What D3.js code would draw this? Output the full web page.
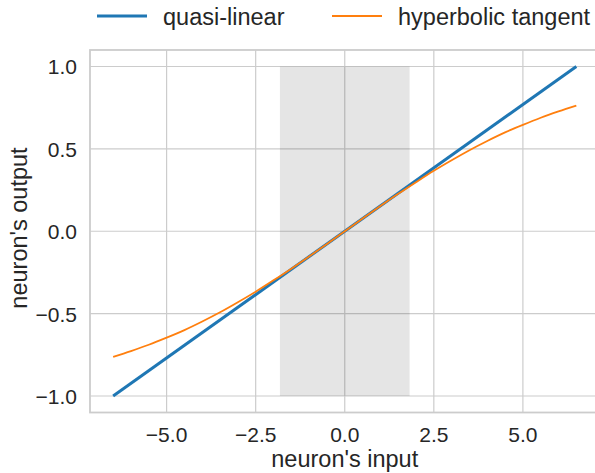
<!DOCTYPE html>
<html>
<head>
<meta charset="utf-8">
<script src="https://cdn.jsdelivr.net/npm/d3@7"></script>
<style>
  body { margin: 0; background: #fff; }
  svg text { font-family: "Liberation Sans", Arial, sans-serif; fill: #262626; }
</style>
</head>
<body>
<div id="chart"></div>
<script>
// Data
var linearX = [-6.5, 6.5];
var linearY = [-1.0, 1.0];

var tanhX = [-6.5, -6.0, -5.5, -5.0, -4.5, -4.0, -3.5, -3.0, -2.5, -2.0, -1.5, -1.0, -0.5, 0.0,
             0.5, 1.0, 1.5, 2.0, 2.5, 3.0, 3.5, 4.0, 4.5, 5.0, 5.5, 6.0, 6.5];
var tanhY = [-0.762, -0.727, -0.689, -0.646, -0.600, -0.548, -0.492, -0.431, -0.367, -0.298, -0.227, -0.153, -0.077, 0.0,
             0.077, 0.153, 0.227, 0.298, 0.367, 0.431, 0.492, 0.548, 0.600, 0.646, 0.689, 0.727, 0.762];

var shadeRange = [-1.82, 1.82];
var shadeY = [-1.0, 1.0];

var xTicks = [-5.0, -2.5, 0.0, 2.5, 5.0];
var yTicks = [-1.0, -0.5, 0.0, 0.5, 1.0];

var seriesNames = ['quasi-linear', 'hyperbolic tangent'];
var seriesColors = ['#1f77b4', '#ff7f0e'];

var width = 595, height = 473;
// plot box (right edge falls just outside the picture, as in the original)
var mLeft = 90, mRight = 599.5, mTop = 50, mBottom = 412.5;

var svg = d3.select('#chart').append('svg').attr('width', width).attr('height', height);

var x = d3.scaleLinear().domain([-7.15, 7.15]).range([mLeft, mRight]);
var y = d3.scaleLinear().domain([-1.1, 1.1]).range([mBottom, mTop]);
var fmt = d3.format('.1f');

// Grid lines
var grid = svg.append('g');
grid.selectAll('line.vx').data(xTicks).enter().append('line')
  .attr('x1', function(d) { return x(d); }).attr('x2', function(d) { return x(d); })
  .attr('y1', mTop).attr('y2', mBottom)
  .attr('stroke', '#cccccc').attr('stroke-width', 1.2);
grid.selectAll('line.hy').data(yTicks).enter().append('line')
  .attr('y1', function(d) { return y(d); }).attr('y2', function(d) { return y(d); })
  .attr('x1', mLeft).attr('x2', mRight)
  .attr('stroke', '#cccccc').attr('stroke-width', 1.2);

// Shaded region (semi-transparent, so grid shows through darker)
svg.append('rect')
  .attr('x', x(shadeRange[0])).attr('width', x(shadeRange[1]) - x(shadeRange[0]))
  .attr('y', y(shadeY[1])).attr('height', y(shadeY[0]) - y(shadeY[1]))
  .attr('fill', '#000').attr('fill-opacity', 0.1);

// Spines
svg.append('rect')
  .attr('x', mLeft).attr('y', mTop).attr('width', mRight - mLeft).attr('height', mBottom - mTop)
  .attr('fill', 'none').attr('stroke', '#cccccc').attr('stroke-width', 1.8);

// Lines
var line = d3.line()
  .x(function(d) { return x(d[0]); })
  .y(function(d) { return y(d[1]); })
  .curve(d3.curveMonotoneX);

svg.append('path')
  .datum(linearX.map(function(v, i) { return [v, linearY[i]]; }))
  .attr('d', line).attr('fill', 'none')
  .attr('stroke', seriesColors[0]).attr('stroke-width', 3);

svg.append('path')
  .datum(tanhX.map(function(v, i) { return [v, tanhY[i]]; }))
  .attr('d', line).attr('fill', 'none')
  .attr('stroke', seriesColors[1]).attr('stroke-width', 1.8);

// Tick labels
svg.selectAll('text.xt').data(xTicks).enter().append('text')
  .attr('x', function(d) { return x(d); }).attr('y', 441.5)
  .attr('text-anchor', 'middle').attr('font-size', 21)
  .text(function(d) { return fmt(d); });
svg.selectAll('text.yt').data(yTicks).enter().append('text')
  .attr('x', 77).attr('y', function(d) { return y(d) + 8; })
  .attr('text-anchor', 'end').attr('font-size', 21)
  .text(function(d) { return fmt(d); });

// Axis labels
svg.append('text').attr('x', x(0)).attr('y', 467)
  .attr('text-anchor', 'middle').attr('font-size', 23.5)
  .text("neuron's input");
svg.append('text').attr('transform', 'translate(26.5,228) rotate(-90)')
  .attr('text-anchor', 'middle').attr('font-size', 23.5)
  .text("neuron's output");

// Legend
var legendX = [97, 332];
var legend = svg.append('g');
seriesNames.forEach(function(name, i) {
  legend.append('line')
    .attr('x1', legendX[i]).attr('x2', legendX[i] + 50)
    .attr('y1', 16).attr('y2', 16)
    .attr('stroke', seriesColors[i]).attr('stroke-width', i == 0 ? 3 : 1.8);
  legend.append('text')
    .attr('x', legendX[i] + 66).attr('y', 24.5)
    .attr('font-size', 23.5)
    .text(name);
});
</script>
</body>
</html>
